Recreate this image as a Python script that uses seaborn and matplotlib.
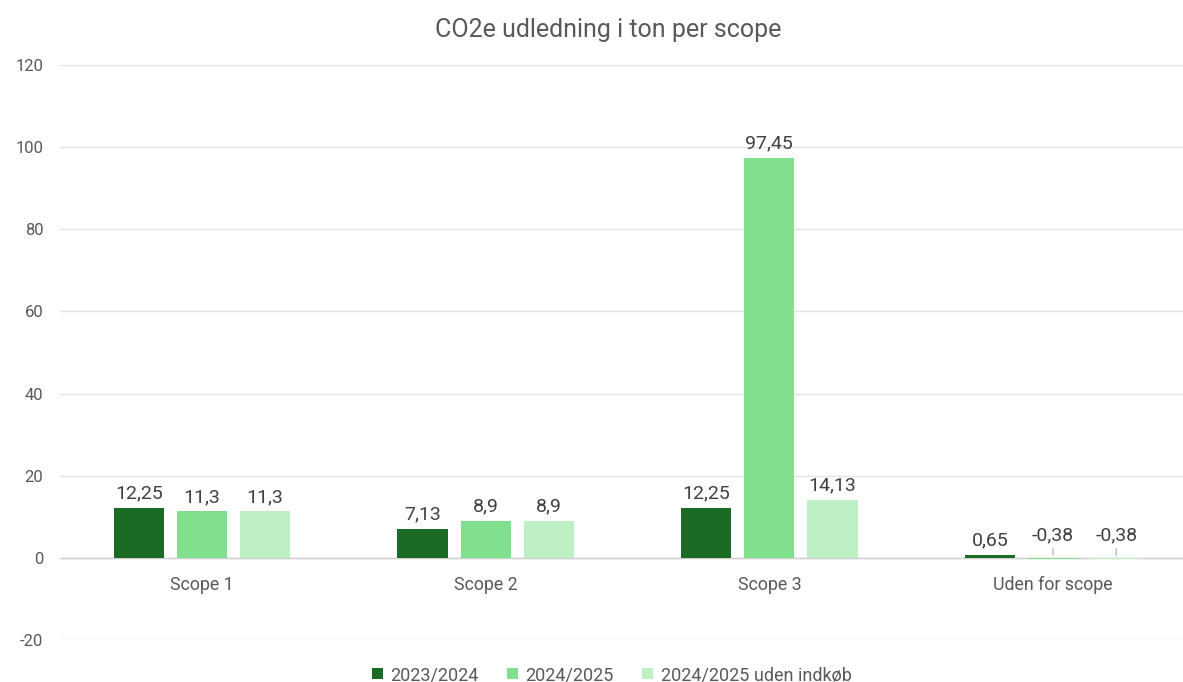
import matplotlib
matplotlib.use("Agg")
import matplotlib.pyplot as plt
import seaborn as sns
import pandas as pd

categories = ["Scope 1", "Scope 2", "Scope 3", "Uden for scope"]
series_names = ["2023/2024", "2024/2025", "2024/2025 uden indkøb"]
values_2023_2024 = [12.25, 7.13, 12.25, 0.65]
values_2024_2025 = [11.3, 8.9, 97.45, -0.38]
values_2024_2025_uden = [11.3, 8.9, 14.13, -0.38]
colors = ["#1a6b23", "#80e08e", "#bdf0c5"]
title = "CO2e udledning i ton per scope"
y_ticks = [-20, 0, 20, 40, 60, 80, 100, 120]

sns.set_theme(style="white")
plt.rcParams["font.family"] = ["Roboto", "DejaVu Sans"]

rows = []
for name, vals in zip(series_names, [values_2023_2024, values_2024_2025, values_2024_2025_uden]):
    for c, v in zip(categories, vals):
        rows.append({"scope": c, "periode": name, "value": v})
df = pd.DataFrame(rows)

gray = "#595959"
fig = plt.figure(figsize=(11.83, 6.82), dpi=100)
ax = fig.add_axes([60 / 1183, 1 - 640 / 682, 1135 / 1183, 575 / 682])

sns.barplot(data=df, x="scope", y="value", hue="periode", order=categories,
            hue_order=series_names, palette=colors, width=0.667, gap=0.206,
            errorbar=None, saturation=1, ax=ax, legend=True, zorder=3,
            linewidth=0, edgecolor="none")

ax.set_ylim(-20, 120)
ax.set_xlim(-0.5, 3.5)
ax.set_yticks(y_ticks)
ax.set_yticklabels([str(t) for t in y_ticks])
ax.yaxis.grid(True, color="#e3e3e3", linewidth=1)
ax.set_axisbelow(True)
for s in ["top", "right", "left"]:
    ax.spines[s].set_visible(False)
ax.spines["bottom"].set_position(("data", 0))
ax.spines["bottom"].set_color("#cfcfcf")
ax.spines["bottom"].set_linewidth(1)
ax.spines["bottom"].set_zorder(1)
ax.tick_params(axis="y", length=0, pad=12, labelsize=12, labelcolor=gray)
ax.tick_params(axis="x", length=0, pad=13, labelsize=12.8, labelcolor=gray)
ax.set_xlabel("")
ax.set_ylabel("")

for container, vals in zip(ax.containers, [values_2023_2024, values_2024_2025, values_2024_2025_uden]):
    for bar, v in zip(container, vals):
        x = bar.get_x() + bar.get_width() / 2
        lbl = f"{v:g}".replace(".", ",")
        if v < 0:
            ax.annotate(lbl, xy=(x, 0), xytext=(0, 10), textcoords="offset points",
                        ha="center", va="bottom", fontsize=14, color="#404040", zorder=4,
                        arrowprops=dict(arrowstyle="-", color="#a6a6a6", lw=0.8,
                                        shrinkA=1, shrinkB=2))
        else:
            ax.annotate(lbl, xy=(x, v), xytext=(0, 4), textcoords="offset points",
                        ha="center", va="bottom", fontsize=14, color="#404040", zorder=4)

ax.get_legend().remove()
handles = [plt.Rectangle((0, 0), 1, 1, color=c, linewidth=0) for c in colors]
fig.legend(handles, series_names, loc="center", bbox_to_anchor=(0.517, 1 - 675 / 682),
           ncol=3, frameon=False, fontsize=13, handlelength=0.6, handleheight=0.6,
           handletextpad=0.4, columnspacing=1.6, labelcolor=gray)

fig.text(0.514, 0.956, title, ha="center", va="center", fontsize=18, color=gray)

fig.savefig("out.png", dpi=100, facecolor="white")
